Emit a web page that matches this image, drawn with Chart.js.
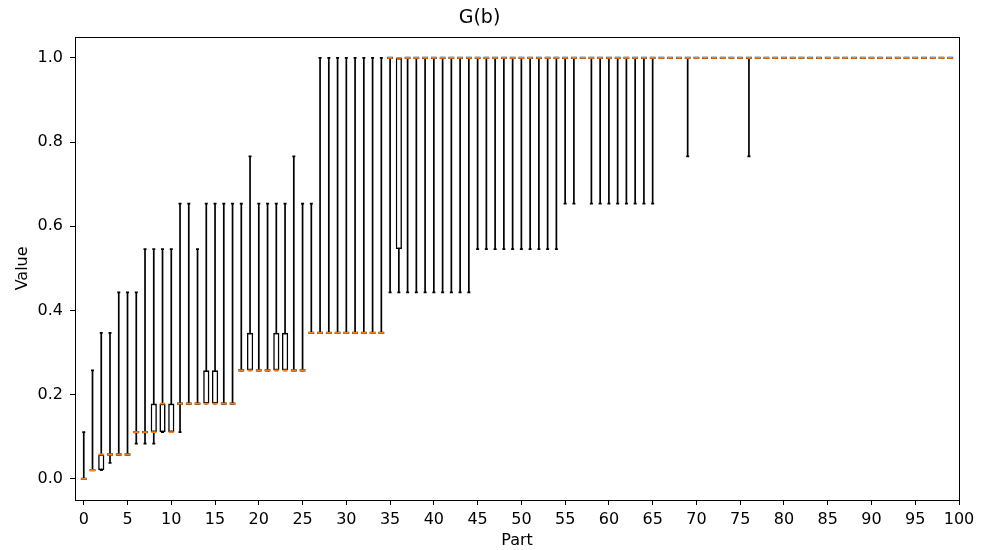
<!DOCTYPE html>
<html>
<head>
<meta charset="utf-8">
<script src="https://cdn.jsdelivr.net/npm/chart.js@4"></script>
<style>
html, body { margin: 0; padding: 0; background: #fff; }
#wrap { width: 983px; height: 550px; }
</style>
</head>
<body>
<div id="wrap"><canvas id="boxChart" width="983" height="550"></canvas></div>
<script>
// part index 0..99 (box positions)
const parts = Array.from({ length: 100 }, (_, i) => i);

// lower whisker
const whisLo = [
  0, 0.021, 0.021, 0.038, 0.058, 0.058, 0.084, 0.084, 0.084, 0.111,
  0.111, 0.111, 0.179, 0.179, 0.179, 0.179, 0.179, 0.179, 0.258, 0.258,
  0.258, 0.258, 0.258, 0.258, 0.258, 0.258, 0.347, 0.347, 0.347, 0.347,
  0.347, 0.347, 0.347, 0.347, 0.347, 0.443, 0.443, 0.443, 0.443, 0.443,
  0.443, 0.443, 0.443, 0.443, 0.443, 0.546, 0.546, 0.546, 0.546, 0.546,
  0.546, 0.546, 0.546, 0.546, 0.546, 0.654, 0.654, 1, 0.654, 0.654,
  0.654, 0.654, 0.654, 0.654, 0.654, 0.654, 1, 1, 1, 0.766,
  1, 1, 1, 1, 1, 1, 0.766, 1, 1, 1,
  1, 1, 1, 1, 1, 1, 1, 1, 1, 1,
  1, 1, 1, 1, 1, 1, 1, 1, 1, 1
];

// first quartile
const q1 = [
  0, 0.021, 0.021, 0.058, 0.058, 0.058, 0.111, 0.111, 0.111, 0.111,
  0.111, 0.179, 0.179, 0.179, 0.179, 0.179, 0.179, 0.179, 0.258, 0.258,
  0.258, 0.258, 0.258, 0.258, 0.258, 0.258, 0.347, 0.347, 0.347, 0.347,
  0.347, 0.347, 0.347, 0.347, 0.347, 1, 0.546, 1, 1, 1,
  1, 1, 1, 1, 1, 1, 1, 1, 1, 1,
  1, 1, 1, 1, 1, 1, 1, 1, 1, 1,
  1, 1, 1, 1, 1, 1, 1, 1, 1, 1,
  1, 1, 1, 1, 1, 1, 1, 1, 1, 1,
  1, 1, 1, 1, 1, 1, 1, 1, 1, 1,
  1, 1, 1, 1, 1, 1, 1, 1, 1, 1
];

// median
const med = [
  0, 0.021, 0.058, 0.058, 0.058, 0.058, 0.111, 0.111, 0.111, 0.179,
  0.111, 0.179, 0.179, 0.179, 0.179, 0.179, 0.179, 0.179, 0.258, 0.258,
  0.258, 0.258, 0.258, 0.258, 0.258, 0.258, 0.347, 0.347, 0.347, 0.347,
  0.347, 0.347, 0.347, 0.347, 0.347, 1, 1, 1, 1, 1,
  1, 1, 1, 1, 1, 1, 1, 1, 1, 1,
  1, 1, 1, 1, 1, 1, 1, 1, 1, 1,
  1, 1, 1, 1, 1, 1, 1, 1, 1, 1,
  1, 1, 1, 1, 1, 1, 1, 1, 1, 1,
  1, 1, 1, 1, 1, 1, 1, 1, 1, 1,
  1, 1, 1, 1, 1, 1, 1, 1, 1, 1
];

// third quartile
const q3 = [
  0, 0.021, 0.058, 0.058, 0.058, 0.058, 0.111, 0.111, 0.179, 0.179,
  0.179, 0.179, 0.179, 0.179, 0.258, 0.258, 0.179, 0.179, 0.258, 0.347,
  0.258, 0.258, 0.347, 0.347, 0.258, 0.258, 0.347, 0.347, 0.347, 0.347,
  0.347, 0.347, 0.347, 0.347, 0.347, 1, 1, 1, 1, 1,
  1, 1, 1, 1, 1, 1, 1, 1, 1, 1,
  1, 1, 1, 1, 1, 1, 1, 1, 1, 1,
  1, 1, 1, 1, 1, 1, 1, 1, 1, 1,
  1, 1, 1, 1, 1, 1, 1, 1, 1, 1,
  1, 1, 1, 1, 1, 1, 1, 1, 1, 1,
  1, 1, 1, 1, 1, 1, 1, 1, 1, 1
];

// upper whisker
const whisHi = [
  0.111, 0.258, 0.347, 0.347, 0.443, 0.443, 0.443, 0.546, 0.546, 0.546,
  0.546, 0.654, 0.654, 0.546, 0.654, 0.654, 0.654, 0.654, 0.654, 0.766,
  0.654, 0.654, 0.654, 0.654, 0.766, 0.654, 0.654, 1, 1, 1,
  1, 1, 1, 1, 1, 1, 1, 1, 1, 1,
  1, 1, 1, 1, 1, 1, 1, 1, 1, 1,
  1, 1, 1, 1, 1, 1, 1, 1, 1, 1,
  1, 1, 1, 1, 1, 1, 1, 1, 1, 1,
  1, 1, 1, 1, 1, 1, 1, 1, 1, 1,
  1, 1, 1, 1, 1, 1, 1, 1, 1, 1,
  1, 1, 1, 1, 1, 1, 1, 1, 1, 1
];

const xTicks = [0, 5, 10, 15, 20, 25, 30, 35, 40, 45, 50, 55, 60, 65, 70, 75, 80, 85, 90, 95, 100];
const yTicks = [0, 0.2, 0.4, 0.6, 0.8, 1.0];

let whiskers = parts.map(i => ({ x: i, y: [whisLo[i], whisHi[i]] }));
let boxes = parts.map(i => ({ x: i, y: [q1[i], q3[i]] }));
let medians = parts.map(i => ({ x: i, y: med[i] }));
let caps = parts.map(i => ({ x: i, y: whisLo[i] })).concat(parts.map(i => ({ x: i, y: whisHi[i] })));
// boxes with q1 == q3 collapse into a single black edge under the median
let flatBoxes = parts.map(i => ({ x: i, y: q1[i] === q3[i] ? q1[i] : null }));

// matplotlib-like frame around the plot area
const frame = {
  id: 'frame',
  afterDraw(chart) {
    const a = chart.chartArea;
    const c = chart.ctx;
    c.save();
    c.strokeStyle = '#000';
    c.lineWidth = 1;
    c.strokeRect(Math.round(a.left) + 0.5, Math.round(a.top) + 0.5,
      Math.round(a.right - a.left), Math.round(a.bottom - a.top));
    c.restore();
  }
};

Chart.defaults.font.family = "'DejaVu Sans', sans-serif";
Chart.defaults.font.size = 16;
Chart.defaults.color = '#000';

let ctx = document.getElementById('boxChart').getContext('2d');

new Chart(ctx, {
  type: 'bar',
  data: {
    datasets: [
      {
        type: 'scatter',
        label: 'median',
        data: medians,
        order: 0,
        pointStyle: 'line',
        pointRadius: 2.6,
        pointBorderWidth: 1.8,
        pointBorderColor: '#ff7f0e',
        pointBackgroundColor: '#ff7f0e'
      },
      {
        type: 'scatter',
        label: 'flat box',
        data: flatBoxes,
        order: 1,
        pointStyle: 'line',
        pointRadius: 2.9,
        pointBorderWidth: 2.3,
        pointBorderColor: '#222',
        pointBackgroundColor: '#222'
      },
      {
        type: 'bar',
        label: 'box',
        data: boxes,
        order: 2,
        grouped: false,
        maxBarThickness: 6.2,
        barThickness: 6.2,
        backgroundColor: '#ffffff',
        borderColor: '#000000',
        borderWidth: 1.6,
        borderSkipped: false,
        inflateAmount: 0
      },
      {
        type: 'scatter',
        label: 'caps',
        data: caps,
        order: 3,
        pointStyle: 'line',
        pointRadius: 1.5,
        pointBorderWidth: 1.8,
        pointBorderColor: '#000',
        pointBackgroundColor: '#000'
      },
      {
        type: 'bar',
        label: 'whisker',
        data: whiskers,
        order: 4,
        grouped: false,
        maxBarThickness: 1.7,
        barThickness: 1.7,
        backgroundColor: '#000000',
        borderWidth: 0,
        inflateAmount: 0
      }
    ]
  },
  options: {
    responsive: false,
    animation: false,
    events: [],
    layout: { padding: { top: 0, right: 24, bottom: 0, left: 0 } },
    plugins: {
      legend: { display: false },
      tooltip: { enabled: false },
      title: {
        display: true,
        text: 'G(b)',
        color: '#000',
        font: { size: 19, weight: 'normal' },
        padding: { top: 7, bottom: 7 }
      }
    },
    scales: {
      x: {
        type: 'linear',
        min: -1,
        max: 100,
        offset: false,
        afterBuildTicks: (axis) => { axis.ticks = xTicks.map(v => ({ value: v })); },
        afterFit: (axis) => { axis.height = 50; },
        ticks: { autoSkip: false, maxRotation: 0, padding: 5, callback: (v) => String(v) },
        grid: { display: true, drawOnChartArea: false, drawTicks: true, tickLength: 5, color: '#000', offset: false },
        border: { display: false },
        title: { display: true, text: 'Part', padding: { top: 0, bottom: 0 } }
      },
      y: {
        type: 'linear',
        min: -0.05,
        max: 1.05,
        afterBuildTicks: (axis) => { axis.ticks = yTicks.map(v => ({ value: v })); },
        afterFit: (axis) => { axis.width = 75; },
        ticks: { padding: 7, callback: (v) => v.toFixed(1) },
        grid: { display: true, drawOnChartArea: false, drawTicks: true, tickLength: 5, color: '#000' },
        border: { display: false },
        title: { display: true, text: 'Value', padding: { top: 13, bottom: 0 } }
      }
    }
  },
  plugins: [frame]
});
</script>
</body>
</html>
